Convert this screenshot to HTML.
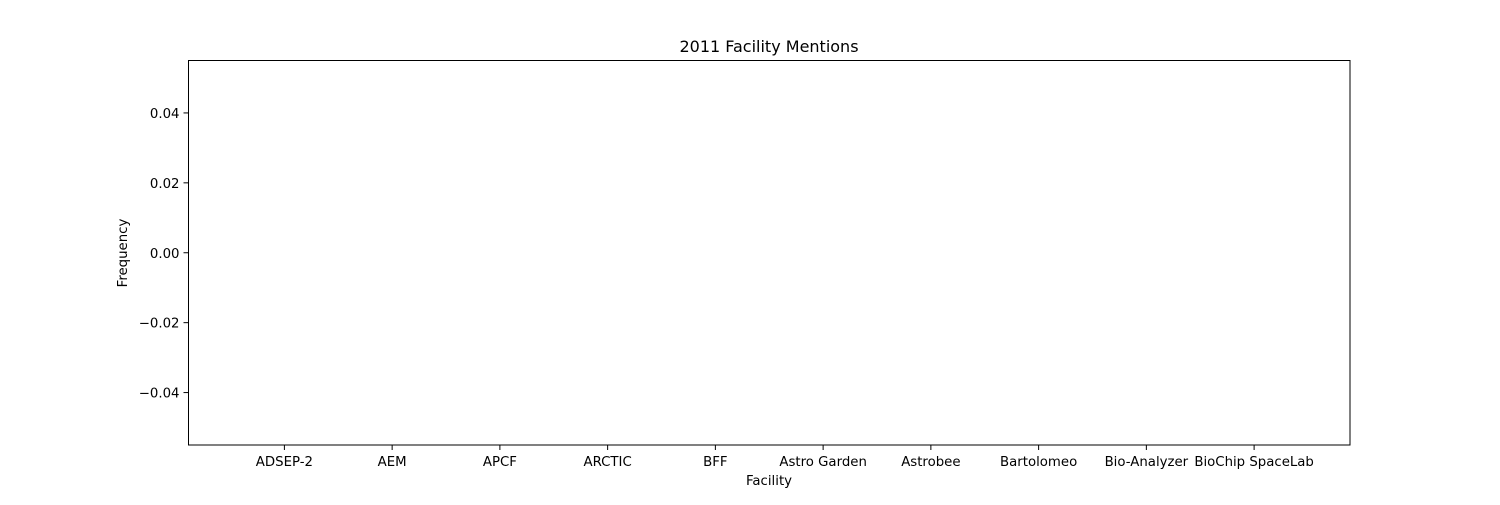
<!DOCTYPE html>
<html><head><meta charset="utf-8">
<style>
html,body{margin:0;padding:0;background:#fff;}
svg text{font-family:"DejaVu Sans","Liberation Sans",sans-serif;fill:#000;}
</style></head>
<body>
<svg id="chart" width="1500" height="500" xmlns="http://www.w3.org/2000/svg">
<rect width="1500" height="500" fill="#fff"/>
<text x="769" y="52" font-size="16" text-anchor="middle">2011 Facility Mentions</text>
<g id="plot"></g>
<rect x="188.5" y="60.5" width="1161.5" height="384.5" fill="none" stroke="#000" stroke-width="1"/>
<text x="769" y="485" font-size="13.3" text-anchor="middle">Facility</text>
<text x="127" y="253" font-size="13.3" text-anchor="middle" transform="rotate(-90 127 253)">Frequency</text>
</svg>
<script>
const categories = ["ADSEP-2","AEM","APCF","ARCTIC","BFF","Astro Garden","Astrobee","Bartolomeo","Bio-Analyzer","BioChip SpaceLab"];
const values = [0,0,0,0,0,0,0,0,0,0];
const yTicks = [-0.04,-0.02,0.00,0.02,0.04];
const yTickLabels = ["\u22120.04","\u22120.02","0.00","0.02","0.04"];

const L=188.5,R=1350,T=60.5,B=445;
const xMin=-0.89,xMax=categories.length-1+0.89;
const yMin=-0.055,yMax=0.055;
const xs=v=>L+(v-xMin)/(xMax-xMin)*(R-L);
const ys=v=>B-(v-yMin)/(yMax-yMin)*(B-T);
const NS="http://www.w3.org/2000/svg";
const g=document.getElementById('plot');
function mk(tag,attrs){const e=document.createElementNS(NS,tag);for(const k in attrs)e.setAttribute(k,attrs[k]);g.appendChild(e);return e;}

values.forEach((v,i)=>{
  const y0=ys(0),y1=ys(v);
  const r=mk('rect',{x:xs(i-0.4),y:Math.min(y0,y1),width:xs(i+0.4)-xs(i-0.4),height:Math.abs(y1-y0),fill:'#1f77b4'});
  
  
});
categories.forEach((c,i)=>{
  const x=xs(i);
  const t=mk('line',{x1:x,x2:x,y1:B,y2:B+5,stroke:'#000','stroke-width':1});
  
  
  const lb=mk('text',{x:x,y:B+21,'font-size':13.3,'text-anchor':'middle'});
  lb.textContent=c;
  
  
});
yTicks.forEach((v,i)=>{
  const y=ys(v);
  const t=mk('line',{x1:L-5,x2:L,y1:y,y2:y,stroke:'#000','stroke-width':1});
  
  
  const lb=mk('text',{x:L-9,y:y+5,'font-size':13.3,'text-anchor':'end'});
  lb.textContent=yTickLabels[i];
  
  
});
</script>
</body></html>
